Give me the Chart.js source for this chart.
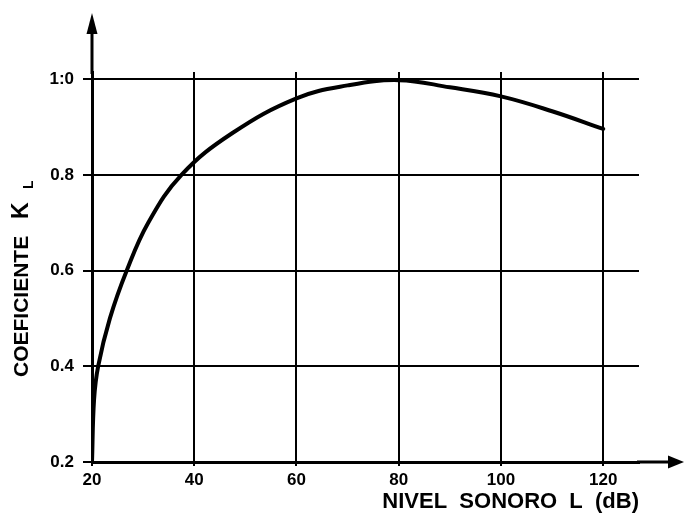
<!DOCTYPE html>
<html><head><meta charset="utf-8">
<script src="https://cdn.jsdelivr.net/npm/chart.js@4.4.1/dist/chart.umd.min.js"></script>
<style>html,body{margin:0;padding:0;background:#fff;} #wrap{width:684px;height:517px;}</style>
</head><body><div id="wrap"><canvas id="c" width="684" height="517"></canvas></div>
<script>
const levels = [20, 20.4, 21.2, 23.5, 26.8, 31, 37.5, 47.4, 60, 70, 80, 90, 100, 110, 120];
const coef   = [0.2, 0.33, 0.4, 0.5, 0.6, 0.7, 0.8, 0.887, 0.96, 0.987, 0.998, 0.983, 0.964, 0.933, 0.896];
const xTicks = [20, 40, 60, 80, 100, 120];
const yTicks = [0.2, 0.4, 0.6, 0.8, 1.0];
const yTickLabels = ['0.2', '0.4', '0.6', '0.8', '1:0'];
const xTitle = 'NIVEL  SONORO  L  (dB)';
const yTitleMain = 'COEFICIENTE';
const yTitleK = 'K';
const yTitleSub = 'L';

const FONT = '"Liberation Sans", Arial, sans-serif';

const arrowsPlugin = {
  id: 'arrows',
  afterDraw(chart) {
    const ctx = chart.ctx;
    const a = chart.chartArea;
    ctx.save();
    ctx.strokeStyle = '#000';
    ctx.fillStyle = '#000';
    ctx.lineWidth = 3;
    // y axis extension + arrow
    ctx.beginPath();
    ctx.moveTo(a.left, a.top + 2);
    ctx.lineTo(a.left, 30);
    ctx.stroke();
    ctx.beginPath();
    ctx.moveTo(a.left, 13);
    ctx.lineTo(a.left - 5.5, 34);
    ctx.lineTo(a.left + 5.5, 34);
    ctx.closePath();
    ctx.fill();
    // x axis extension + arrow
    ctx.beginPath();
    ctx.moveTo(a.right - 2, a.bottom);
    ctx.lineTo(672, a.bottom);
    ctx.stroke();
    ctx.beginPath();
    ctx.moveTo(684, a.bottom);
    ctx.lineTo(668, a.bottom - 6.5);
    ctx.lineTo(668, a.bottom + 6.5);
    ctx.closePath();
    ctx.fill();
    // y title with subscript
    ctx.translate(28, 377);
    ctx.rotate(-Math.PI / 2);
    ctx.textBaseline = 'alphabetic';
    ctx.textAlign = 'left';
    ctx.font = 'bold 21px ' + FONT;
    ctx.fillText(yTitleMain, 0, 0);
    ctx.font = 'bold 23px ' + FONT;
    ctx.fillText(yTitleK, 158, 0);
    ctx.font = 'bold 14px ' + FONT;
    ctx.fillText(yTitleSub, 188, 5);
    ctx.restore();
  }
};

new Chart(document.getElementById('c'), {
  type: 'line',
  data: {
    datasets: [{
      data: levels.map((x, i) => ({ x: x, y: coef[i] })),
      borderColor: '#000',
      borderWidth: 4,
      pointRadius: 0,
      fill: false,
      tension: 0.4,
      borderCapStyle: 'round',
      borderJoinStyle: 'round'
    }]
  },
  options: {
    responsive: false,
    animation: false,
    devicePixelRatio: 1,
    layout: { padding: { top: 72, right: 45, left: 0, bottom: 0 } },
    plugins: { legend: { display: false }, tooltip: { enabled: false } },
    scales: {
      x: {
        type: 'linear',
        min: 20, max: 127,
        afterFit(s) { s.height = 55; },
        afterBuildTicks(s) { s.ticks = xTicks.map(v => ({ value: v })); },
        grid: { color: '#000', lineWidth: 2, tickLength: 4, drawTicks: true },
        border: { display: true, color: '#000', width: 3 },
        ticks: {
          color: '#000', font: { family: FONT, size: 17, weight: 'bold' }, padding: 4,
          maxRotation: 0, autoSkip: false,
          callback: v => String(v)
        },
        title: {
          display: true, text: xTitle, align: 'end', color: '#000',
          font: { family: FONT, size: 22, weight: 'bold' },
          padding: { top: 0, bottom: 2 }
        }
      },
      y: {
        type: 'linear',
        min: 0.2, max: 1.015,
        afterFit(s) { s.width = 92; },
        afterBuildTicks(s) { s.ticks = yTicks.map(v => ({ value: v })); },
        grid: { color: '#000', lineWidth: 2, tickLength: 9, drawTicks: true },
        border: { display: true, color: '#000', width: 3 },
        ticks: {
          color: '#000', font: { family: FONT, size: 17, weight: 'bold' }, padding: 9,
          autoSkip: false,
          callback: v => {
            const i = yTicks.findIndex(t => Math.abs(t - v) < 1e-6);
            return i >= 0 ? yTickLabels[i] : '';
          }
        }
      }
    }
  },
  plugins: [arrowsPlugin]
});
</script>
</body></html>
